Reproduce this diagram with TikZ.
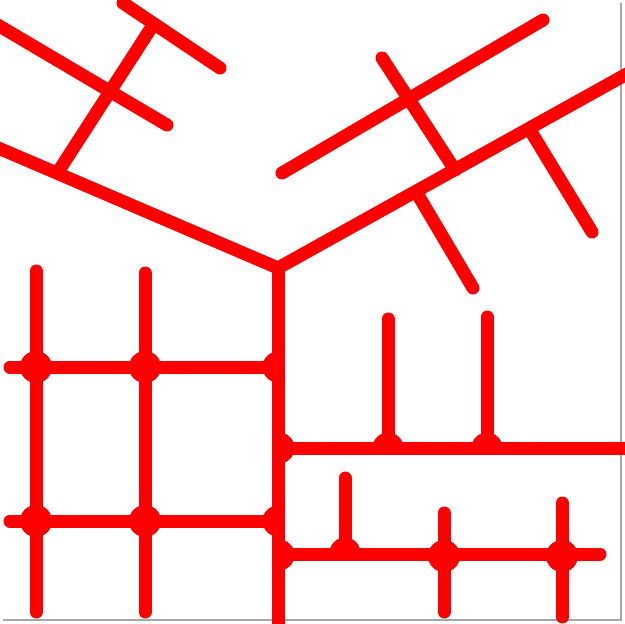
\documentclass[tikz,border=0pt]{standalone}
\begin{document}
\begin{tikzpicture}[x=1pt,y=-1pt,
  road/.style={draw=red, line width=13pt, line cap=round},
  blob/.style={fill=red},
  frame/.style={draw=gray!70, line width=1.5pt}]
\useasboundingbox (0,0) rectangle (624,624);
\fill[white] (0,0) rectangle (624,624);
\draw[frame] (3,620) -- (621,620) -- (621,3);

% junction coordinates
\coordinate (Y) at (278,268);
\coordinate (L1a) at (-4,24);   \coordinate (L1b) at (167,125);
\coordinate (L2a) at (-4,147);
\coordinate (P1a) at (58,172);  \coordinate (P1b) at (153,25);
\coordinate (T1a) at (123,3);   \coordinate (T1b) at (220,68);
\coordinate (R1a) at (282,173); \coordinate (R1b) at (543,20);
\coordinate (R2b) at (634,70);
\coordinate (Q1a) at (382,58);  \coordinate (Q1b) at (455,170);
\coordinate (Q2a) at (418,195); \coordinate (Q2b) at (473,288);
\coordinate (Q3a) at (530,130); \coordinate (Q3b) at (592,232);

% upper diagonal streets
\path[road] (L1a) -- (L1b);
\path[road] (L2a) -- (Y);
\path[road] (P1a) -- (P1b);
\path[road] (T1a) -- (T1b);
\path[road] (R1a) -- (R1b);
\path[road] (Y) -- (R2b);
\path[road] (Q1a) -- (Q1b);
\path[road] (Q2a) -- (Q2b);
\path[road] (Q3a) -- (Q3b);

% left grid
\path[road] (36,271) -- (36,612);
\path[road] (145,273) -- (145,612);
\path[road] (Y) -- (278,640);
\path[road] (10,367) -- (278,367);
\path[road] (10,521) -- (278,521);

% right streets
\path[road] (279,448) -- (640,448);
\path[road] (279,554) -- (600,554);
\path[road] (388,319) -- (388,448);
\path[road] (487,317) -- (487,448);
\path[road] (345,478) -- (345,554);
\path[road] (444,513) -- (444,612);
\path[road] (562,503) -- (562,617);

% full dots
\foreach \p in {(36,367),(145,367),(36,521),(145,521),(444,556),(562,556)}
  \fill[blob] \p circle[radius=16];

% half dots, left side
\foreach \cx/\cy in {278/367,278/521} {
  \begin{scope}
    \clip (\cx-20,\cy-20) rectangle (\cx,\cy+20);
    \fill[blob] (\cx,\cy) circle[radius=15.5];
  \end{scope}}
% half dots, right side
\foreach \cx/\cy in {279/448,279/555} {
  \begin{scope}
    \clip (\cx,\cy-20) rectangle (\cx+20,\cy+20);
    \fill[blob] (\cx,\cy) circle[radius=15.5];
  \end{scope}}
% half dots, upper side
\foreach \cx/\cy in {388/448,487/448,345/553} {
  \begin{scope}
    \clip (\cx-20,\cy-20) rectangle (\cx+20,\cy);
    \fill[blob] (\cx,\cy) circle[radius=15.5];
  \end{scope}}
\end{tikzpicture}
\end{document}
